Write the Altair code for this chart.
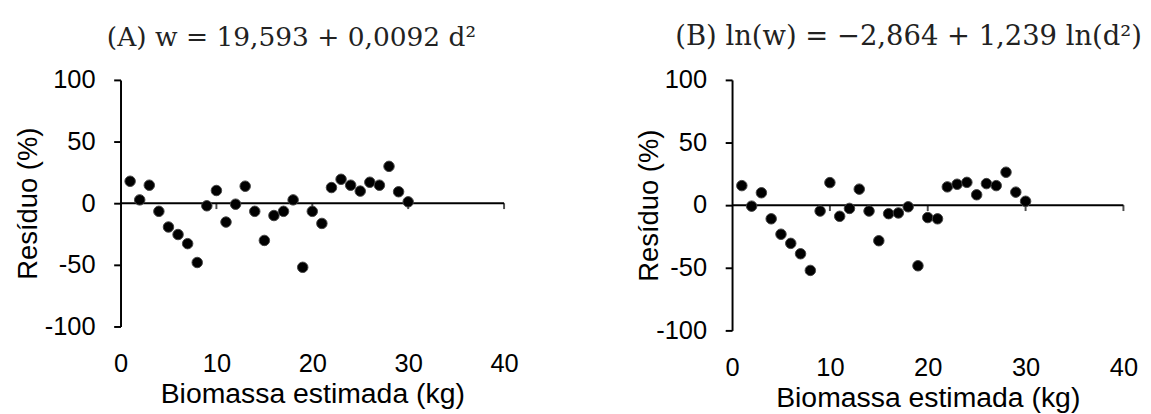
import altair as alt
import pandas as pd

# ---- data ----
biomassa = list(range(1, 31))
residuo_a = [17.8, 2.7, 14.6, -6.6, -19.3, -25.4, -32.8, -48.1, -2.1, 10.3,
             -15.3, -0.8, 13.8, -6.6, -30.2, -10.0, -6.6, 2.7, -52.0, -6.6,
             -16.4, 12.7, 19.4, 14.6, 9.8, 17.0, 14.6, 29.9, 9.3, 1.1]
residuo_b = [15.6, -0.8, 9.9, -10.9, -23.2, -30.5, -38.8, -52.1, -4.7, 18.0,
             -8.9, -2.6, 12.8, -4.7, -28.4, -6.8, -6.2, -1.3, -48.4, -9.9,
             -10.9, 14.6, 16.7, 18.2, 8.3, 17.2, 15.6, 26.3, 10.4, 3.1]
x_ticks = [0, 10, 20, 30, 40]
y_ticks = [-100, -50, 0, 50, 100]
zero_axis_ticks = [10, 20, 30, 40]
title_a = "(A) w = 19,593 + 0,0092 d²"
title_b = "(B) ln(w) = −2,864 + 1,239 ln(d²)"
x_title = "Biomassa estimada (kg)"
y_title = "Resíduo (%)"


def panel(values, title, w, h, title_dx, title_size, y_title_pad):
    df = pd.DataFrame({"x": biomassa, "r": values})
    zero_df = pd.DataFrame({"x": [x_ticks[0]], "x1": [x_ticks[-1]], "r": [0]})
    tick_df = pd.DataFrame({"x": zero_axis_ticks, "r": [0] * len(zero_axis_ticks)})

    xs = alt.Scale(domain=[x_ticks[0], x_ticks[-1]], nice=False, zero=False)
    ys = alt.Scale(domain=[y_ticks[0], y_ticks[-1]], nice=False, zero=False)

    x_axis = alt.Axis(values=x_ticks, domain=False, ticks=False, tickSize=0,
                      grid=False, labelPadding=25, labelFlush=False,
                      labelFontSize=26, title=x_title, titleFontSize=29,
                      titlePadding=4, labelExpr="datum.value + ''")
    y_axis = alt.Axis(values=y_ticks, domain=True, domainColor="black",
                      domainWidth=2, ticks=True, tickColor="black", tickWidth=2,
                      tickSize=7, grid=False, labelPadding=19, labelFlush=False,
                      labelFontSize=26, title=y_title, titleFontSize=28,
                      titlePadding=y_title_pad, labelExpr="datum.value + ''")

    enc_x = alt.X("x:Q", scale=xs, axis=x_axis)
    enc_y = alt.Y("r:Q", scale=ys, axis=y_axis)

    line = alt.Chart(zero_df).mark_rule(color="black", strokeWidth=2).encode(
        x=enc_x, x2="x1:Q", y=enc_y,
    )
    ticks = alt.Chart(tick_df).mark_tick(color="black", thickness=2, size=6,
                                         orient="vertical", yOffset=3).encode(
        x=enc_x, y=enc_y,
    )
    pts = alt.Chart(df).mark_circle(size=115, color="black", opacity=1,
                                    stroke="#444444", strokeWidth=1).encode(
        x=enc_x, y=enc_y,
    )
    return alt.layer(line, ticks, pts).properties(
        width=w, height=h,
        title=alt.TitleParams(title, font="DejaVu Serif", fontSize=title_size,
                              fontWeight="normal", color="#222222",
                              anchor="start", frame="group", dx=title_dx,
                              baseline="alphabetic", offset=-5),
    )


chart = alt.hconcat(
    panel(residuo_a, title_a, 392, 252, -14, 27, 2),
    panel(residuo_b, title_b, 400, 256, -58, 28, -8),
    spacing=119,
).properties(
    padding={"left": 6, "top": 11, "right": 0, "bottom": 0},
    background="white",
).configure_view(stroke=None).configure_axis(
    labelFont="Liberation Sans", titleFont="Liberation Sans",
    labelColor="black", titleColor="black", titleFontWeight="normal",
)

chart.save("out.html", embed_options={"renderer": "svg", "actions": False})
